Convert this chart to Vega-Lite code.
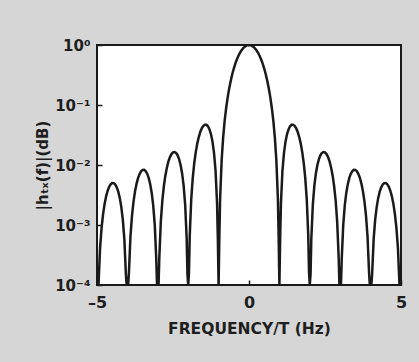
{
  "$schema": "https://vega.github.io/schema/vega-lite/v6.json",
  "autosize": "none",
  "width": 304,
  "height": 240,
  "padding": {"left": 97, "top": 45, "right": 18, "bottom": 77},
  "background": "#d6d6d6",
  "view": {"fill": "white", "stroke": "#1a1a1a", "strokeWidth": 2},
  "config": {
    "font": "DejaVu Sans",
    "axis": {"grid": false, "domain": false, "labelFont": "DejaVu Sans", "labelFontWeight": "bold", "labelColor": "#1e1e1e", "titleFont": "DejaVu Sans", "titleFontWeight": "bold", "titleColor": "#1e1e1e", "tickColor": "#1a1a1a", "tickWidth": 1.5, "zindex": 1}
  },
  "data": {"values": [
    {"f": -5, "h": 0.0001}, {"f": -4.975, "h": 0.0001}, {"f": -4.95, "h": 0.00010119}, {"f": -4.9, "h": 0.00040297}, {"f": -4.85, "h": 0.00088779}, {"f": -4.8, "h": 0.0015193}, {"f": -4.75, "h": 0.0022454}, {"f": -4.7, "h": 0.0030021}, {"f": -4.65, "h": 0.0037201}, {"f": -4.6, "h": 0.0043311}, {"f": -4.55, "h": 0.0047744}, {"f": -4.5, "h": 0.0050035}, {"f": -4.45, "h": 0.0049913}, {"f": -4.4, "h": 0.0047338}, {"f": -4.35, "h": 0.0042509}, {"f": -4.3, "h": 0.0035866}, {"f": -4.25, "h": 0.0028047}, {"f": -4.2, "h": 0.0019844}, {"f": -4.15, "h": 0.0012126}, {"f": -4.1, "h": 0.00057557}, {"f": -4.05, "h": 0.00015117}, {"f": -4.025, "h": 0.0001}, {"f": -4, "h": 0.0001}, {"f": -3.975, "h": 0.0001}, {"f": -3.95, "h": 0.00015892}, {"f": -3.9, "h": 0.00063612}, {"f": -3.85, "h": 0.0014089}, {"f": -3.8, "h": 0.0024242}, {"f": -3.75, "h": 0.0036025}, {"f": -3.7, "h": 0.0048441}, {"f": -3.65, "h": 0.0060378}, {"f": -3.6, "h": 0.0070714}, {"f": -3.55, "h": 0.007843}, {"f": -3.5, "h": 0.0082711}, {"f": -3.45, "h": 0.0083043}, {"f": -3.4, "h": 0.0079279}, {"f": -3.35, "h": 0.0071676}, {"f": -3.3, "h": 0.0060896}, {"f": -3.25, "h": 0.0047963}, {"f": -3.2, "h": 0.0034185}, {"f": -3.15, "h": 0.0021046}, {"f": -3.1, "h": 0.0010068}, {"f": -3.05, "h": 0.00026654}, {"f": -3.025, "h": 0.0001}, {"f": -3, "h": 0.0001}, {"f": -2.975, "h": 0.0001}, {"f": -2.95, "h": 0.00028492}, {"f": -2.9, "h": 0.0011505}, {"f": -2.85, "h": 0.002571}, {"f": -2.8, "h": 0.004465}, {"f": -2.75, "h": 0.0066989}, {"f": -2.7, "h": 0.0090968}, {"f": -2.65, "h": 0.011454}, {"f": -2.6, "h": 0.013557}, {"f": -2.55, "h": 0.015201}, {"f": -2.5, "h": 0.016211}, {"f": -2.45, "h": 0.016467}, {"f": -2.4, "h": 0.015911}, {"f": -2.35, "h": 0.014566}, {"f": -2.3, "h": 0.012536}, {"f": -2.25, "h": 0.010007}, {"f": -2.2, "h": 0.0072326}, {"f": -2.15, "h": 0.0045177}, {"f": -2.1, "h": 0.002194}, {"f": -2.05, "h": 0.00059}, {"f": -2.025, "h": 0.0001521}, {"f": -2, "h": 0.0001}, {"f": -1.975, "h": 0.0001599}, {"f": -1.95, "h": 0.00065207}, {"f": -1.9, "h": 0.0026802}, {"f": -1.85, "h": 0.0061017}, {"f": -1.8, "h": 0.010804}, {"f": -1.75, "h": 0.016542}, {"f": -1.7, "h": 0.022946}, {"f": -1.65, "h": 0.029546}, {"f": -1.6, "h": 0.035799}, {"f": -1.55, "h": 0.041141}, {"f": -1.5, "h": 0.045032}, {"f": -1.45, "h": 0.047011}, {"f": -1.4, "h": 0.046758}, {"f": -1.35, "h": 0.044136}, {"f": -1.3, "h": 0.03924}, {"f": -1.25, "h": 0.032423}, {"f": -1.2, "h": 0.02431}, {"f": -1.15, "h": 0.015791}, {"f": -1.1, "h": 0.0079961}, {"f": -1.05, "h": 0.002249}, {"f": -1.025, "h": 0.00059366}, {"f": -1, "h": 0.0001}, {"f": -0.975, "h": 0.00065611}, {"f": -0.95, "h": 0.0027474}, {"f": -0.9, "h": 0.011945}, {"f": -0.85, "h": 0.0289}, {"f": -0.8, "h": 0.0547}, {"f": -0.75, "h": 0.09006}, {"f": -0.7, "h": 0.13534}, {"f": -0.65, "h": 0.19039}, {"f": -0.6, "h": 0.25457}, {"f": -0.55, "h": 0.32675}, {"f": -0.5, "h": 0.40528}, {"f": -0.45, "h": 0.48811}, {"f": -0.4, "h": 0.57279}, {"f": -0.35, "h": 0.65664}, {"f": -0.3, "h": 0.73684}, {"f": -0.25, "h": 0.81057}, {"f": -0.2, "h": 0.87514}, {"f": -0.15, "h": 0.92814}, {"f": -0.1, "h": 0.96753}, {"f": -0.05, "h": 0.9918},
    {"f": 0, "h": 1},
    {"f": 0.05, "h": 0.9918}, {"f": 0.1, "h": 0.96753}, {"f": 0.15, "h": 0.92814}, {"f": 0.2, "h": 0.87514}, {"f": 0.25, "h": 0.81057}, {"f": 0.3, "h": 0.73684}, {"f": 0.35, "h": 0.65664}, {"f": 0.4, "h": 0.57279}, {"f": 0.45, "h": 0.48811}, {"f": 0.5, "h": 0.40528}, {"f": 0.55, "h": 0.32675}, {"f": 0.6, "h": 0.25457}, {"f": 0.65, "h": 0.19039}, {"f": 0.7, "h": 0.13534}, {"f": 0.75, "h": 0.09006}, {"f": 0.8, "h": 0.0547}, {"f": 0.85, "h": 0.0289}, {"f": 0.9, "h": 0.011945}, {"f": 0.95, "h": 0.0027474}, {"f": 0.975, "h": 0.00065611}, {"f": 1, "h": 0.0001}, {"f": 1.025, "h": 0.00059366}, {"f": 1.05, "h": 0.002249}, {"f": 1.1, "h": 0.0079961}, {"f": 1.15, "h": 0.015791}, {"f": 1.2, "h": 0.02431}, {"f": 1.25, "h": 0.032423}, {"f": 1.3, "h": 0.03924}, {"f": 1.35, "h": 0.044136}, {"f": 1.4, "h": 0.046758}, {"f": 1.45, "h": 0.047011}, {"f": 1.5, "h": 0.045032}, {"f": 1.55, "h": 0.041141}, {"f": 1.6, "h": 0.035799}, {"f": 1.65, "h": 0.029546}, {"f": 1.7, "h": 0.022946}, {"f": 1.75, "h": 0.016542}, {"f": 1.8, "h": 0.010804}, {"f": 1.85, "h": 0.0061017}, {"f": 1.9, "h": 0.0026802}, {"f": 1.95, "h": 0.00065207}, {"f": 1.975, "h": 0.0001599}, {"f": 2, "h": 0.0001}, {"f": 2.025, "h": 0.0001521}, {"f": 2.05, "h": 0.00059}, {"f": 2.1, "h": 0.002194}, {"f": 2.15, "h": 0.0045177}, {"f": 2.2, "h": 0.0072326}, {"f": 2.25, "h": 0.010007}, {"f": 2.3, "h": 0.012536}, {"f": 2.35, "h": 0.014566}, {"f": 2.4, "h": 0.015911}, {"f": 2.45, "h": 0.016467}, {"f": 2.5, "h": 0.016211}, {"f": 2.55, "h": 0.015201}, {"f": 2.6, "h": 0.013557}, {"f": 2.65, "h": 0.011454}, {"f": 2.7, "h": 0.0090968}, {"f": 2.75, "h": 0.0066989}, {"f": 2.8, "h": 0.004465}, {"f": 2.85, "h": 0.002571}, {"f": 2.9, "h": 0.0011505}, {"f": 2.95, "h": 0.00028492}, {"f": 2.975, "h": 0.0001}, {"f": 3, "h": 0.0001}, {"f": 3.025, "h": 0.0001}, {"f": 3.05, "h": 0.00026654}, {"f": 3.1, "h": 0.0010068}, {"f": 3.15, "h": 0.0021046}, {"f": 3.2, "h": 0.0034185}, {"f": 3.25, "h": 0.0047963}, {"f": 3.3, "h": 0.0060896}, {"f": 3.35, "h": 0.0071676}, {"f": 3.4, "h": 0.0079279}, {"f": 3.45, "h": 0.0083043}, {"f": 3.5, "h": 0.0082711}, {"f": 3.55, "h": 0.007843}, {"f": 3.6, "h": 0.0070714}, {"f": 3.65, "h": 0.0060378}, {"f": 3.7, "h": 0.0048441}, {"f": 3.75, "h": 0.0036025}, {"f": 3.8, "h": 0.0024242}, {"f": 3.85, "h": 0.0014089}, {"f": 3.9, "h": 0.00063612}, {"f": 3.95, "h": 0.00015892}, {"f": 3.975, "h": 0.0001}, {"f": 4, "h": 0.0001}, {"f": 4.025, "h": 0.0001}, {"f": 4.05, "h": 0.00015117}, {"f": 4.1, "h": 0.00057557}, {"f": 4.15, "h": 0.0012126}, {"f": 4.2, "h": 0.0019844}, {"f": 4.25, "h": 0.0028047}, {"f": 4.3, "h": 0.0035866}, {"f": 4.35, "h": 0.0042509}, {"f": 4.4, "h": 0.0047338}, {"f": 4.45, "h": 0.0049913}, {"f": 4.5, "h": 0.0050035}, {"f": 4.55, "h": 0.0047744}, {"f": 4.6, "h": 0.0043311}, {"f": 4.65, "h": 0.0037201}, {"f": 4.7, "h": 0.0030021}, {"f": 4.75, "h": 0.0022454}, {"f": 4.8, "h": 0.0015193}, {"f": 4.85, "h": 0.00088779}, {"f": 4.9, "h": 0.00040297}, {"f": 4.95, "h": 0.00010119}, {"f": 4.975, "h": 0.0001}, {"f": 5, "h": 0.0001}
  ]},
  "mark": {"type": "line", "color": "#1a1a1a", "strokeWidth": 2.5, "clip": true},
  "encoding": {
    "x": {
      "field": "f", "type": "quantitative",
      "scale": {"domain": [-5, 5], "nice": false, "zero": false},
      "axis": {"values": [-5, 0, 5], "format": "d", "labelExpr": "datum.value < 0 ? '\u2013' + abs(datum.value) : datum.label", "offset": -5, "tickSize": 5, "labelPadding": 9, "labelFontSize": 16, "labelFlush": false, "title": "FREQUENCY/T (Hz)", "titleFontSize": 15.5, "titleY": 48, "titleBaseline": "middle"}
    },
    "y": {
      "field": "h", "type": "quantitative",
      "scale": {"type": "log", "domain": [0.0001, 1], "nice": false},
      "axis": {"values": [0.0001, 0.001, 0.01, 0.1, 1], "labelExpr": "'10' + ['\u207b\u2074','\u207b\u00b3','\u207b\u00b2','\u207b\u00b9','\u2070'][round(log(datum.value)/LN10)+4]", "offset": -5, "tickSize": 5, "labelPadding": 7, "labelFontSize": 15, "labelFlush": false, "title": "|h\u209c\u2093(f)|(dB)", "titleFontSize": 15, "titleX": -60, "titleY": 120, "titleAngle": -90, "titleAlign": "center", "titleBaseline": "middle"}
    }
  }
}
